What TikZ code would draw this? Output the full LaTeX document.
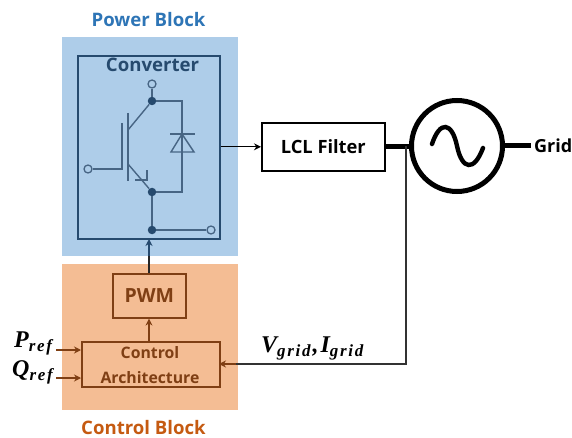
\documentclass[tikz,border=0pt]{standalone}
\usepackage{fontspec}
\setmainfont{Open Sans}
\newfontfamily\mathish{Liberation Serif}
\usetikzlibrary{arrows.meta,calc}
\definecolor{blockblue}{HTML}{AECDE9}
\definecolor{inkblue}{HTML}{264A6E}
\definecolor{titleblue}{HTML}{2E75B6}
\definecolor{blockorange}{HTML}{F4BD94}
\definecolor{inkbrown}{HTML}{7F3F14}
\definecolor{titleorange}{HTML}{C55A11}
\tikzset{
 panel/.style={inner sep=0pt,anchor=north west},
 box/.style={draw,line width=1.6pt,inner sep=0pt,anchor=north west},
 wire/.style={inkblue!85,line width=1.4pt},
 bigdot/.style={circle,fill=inkblue,inner sep=0pt,minimum size=8.5pt},
 term/.style={circle,draw=inkblue!85,fill=blockblue,line width=1.3pt,inner sep=0pt,minimum size=8pt},
 tip/.style={-{Stealth[length=7pt,width=7pt]}},
 title/.style={font=\fontsize{18.6}{20}\selectfont\bfseries,inner sep=0pt},
 sym/.style={font=\mathish\fontsize{24}{25}\selectfont\bfseries\itshape,text=black,inner sep=0pt},
}
\newcommand{\subs}[1]{\raisebox{-4pt}{\fontsize{17}{17}\selectfont\addfontfeature{LetterSpace=10}#1}}
\begin{document}
\begin{tikzpicture}[x=1pt,y=-1pt]
\useasboundingbox (0,0) rectangle (572,438);
\node[panel,fill=blockblue,minimum width=176pt,minimum height=219pt] (power) at (62,37) {};
\node[panel,fill=blockorange,minimum width=176pt,minimum height=146pt] (control) at (62,264) {};
\node[title,text=titleblue] (powerlabel) at (148.5,20) {Power Block};
\node[title,text=titleorange] (controllabel) at (143.5,428) {Control Block};
\node[box,draw=inkblue,minimum width=142pt,minimum height=183pt] (conv) at (77,55) {};
\node[title,text=inkblue] (convlabel) at (152.5,65) {Converter};
% switch
\node[term] (t1) at (152,84) {};
\node[bigdot] (d1) at (152,101) {};
\node[bigdot] (d2) at (152,192) {};
\node[bigdot] (d3) at (152,230) {};
\node[term] (t2) at (88,169) {};
\node[term] (t3) at (211,230) {};
\coordinate (g1) at (122,123); \coordinate (g2) at (122,169);
\coordinate (c1) at (128,113); \coordinate (c2) at (128,181);
\coordinate (cc) at (128,130); \coordinate (ee) at (128,164);
\coordinate (r1) at (182,101); \coordinate (r2) at (182,192);
\coordinate (da) at (182,134);
\draw[wire] (t1) -- (d1);
\draw[wire] (d1) -- (cc);
\draw[wire] (c1) -- (c2);
\draw[wire] (g1) -- (g2) -- (t2);
\draw[wire] (ee) -- (d2);
\draw[wire] (135,180) -- (147,180) -- (147,170);
\draw[wire] (d1) -- (r1) -- (r2) -- (d2);
\draw[wire] (d2) -- (d3);
\draw[wire] (d3) -- (t3);
\draw[wire,line width=2.2pt] (170,134) -- (195,134);
\draw[wire] (da) -- (171,152) -- (194,152) -- cycle;
% control
\node[box,draw=inkbrown,minimum width=73pt,minimum height=44pt,font=\fontsize{19.5}{21}\selectfont\bfseries,text=inkbrown] (pwm) at (112,273) {PWM};
\node[box,draw=inkbrown,minimum width=138pt,minimum height=45pt] (arch) at (81,341) {};
\node[align=center,inner sep=0pt,font=\fontsize{15.8}{25}\selectfont\bfseries,text=inkbrown] (archlabel) at (150,365.5) {Control\\Architecture};
% right
\node[box,draw=black,minimum width=123pt,minimum height=48pt,font=\fontsize{18.3}{20}\selectfont\bfseries] (lcl) at (261,122) {LCL Filter};
\node[circle,draw=black,line width=5pt,minimum size=91pt,inner sep=0pt] (src) at (457,146) {};
\draw[line width=4.4pt,line cap=round] ($(src.center)+(-25,-2)$) .. controls ($(src.center)+(-17,-26)$) and ($(src.center)+(-5,-24)$) .. (src.center) .. controls ($(src.center)+(5,24)$) and ($(src.center)+(17,26)$) .. ($(src.center)+(26,2)$);
\node[anchor=west,inner sep=0pt,font=\fontsize{18}{20}\selectfont\bfseries] (grid) at (534,146) {Grid};
\coordinate (gridend) at (531,146);
\draw[line width=5pt] (lcl.east) -- (lcl.east -| src.west);
\draw[line width=5pt] (src.east) -- (src.east -| gridend);
\coordinate (tap) at (406,146);
\coordinate (archin) at (219,364);
\draw[line width=1.5pt,black!80] (tap) |- (236,364);
\draw[line width=1.5pt,inkbrown,tip] (236,364) -- (archin);
\draw[line width=1.3pt,tip] (conv.east |- lcl.west) -- (lcl.west);
\draw[line width=1.5pt,black!85] (pwm.north -| 149,0) -- (149,256);
\draw[line width=1.5pt,inkblue,tip] (149,256) -- (149,239);
\draw[line width=1.5pt,inkbrown,tip] (arch.north -| 149,0) -- (pwm.south -| 149,0);
\node[sym,anchor=base west] (pref) at (14,347) {P\subs{ref}};
\node[sym,anchor=base west] (qref) at (12,376) {Q\subs{ref}};
\node[sym,anchor=base west] (vi) at (261,352) {V\subs{grid}\kern2pt,\kern2pt I\subs{grid}};
\coordinate (pe) at (81,350); \coordinate (qe) at (81,378);
\coordinate (ps) at (56,350); \coordinate (qs) at (56,378);
\draw[line width=1.5pt,inkbrown,tip] (ps) -- (pe);
\draw[line width=1.5pt,inkbrown,tip] (qs) -- (qe);
\end{tikzpicture}
\end{document}
